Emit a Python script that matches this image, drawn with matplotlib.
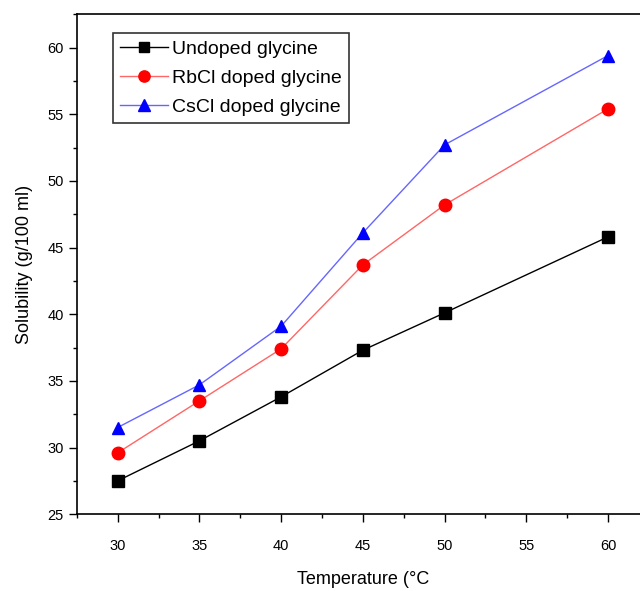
import matplotlib
matplotlib.use("Agg")
import matplotlib.pyplot as plt
from matplotlib.ticker import MultipleLocator

plt.rcParams['font.family'] = ['Liberation Sans', 'DejaVu Sans']

temperature = [30, 35, 40, 45, 50, 60]
undoped = [27.5, 30.5, 33.8, 37.3, 40.1, 45.8]
rbcl = [29.6, 33.5, 37.4, 43.7, 48.2, 55.4]
cscl = [31.5, 34.7, 39.1, 46.1, 52.7, 59.4]

fig = plt.figure(figsize=(6.4, 5.91), dpi=100)
ax = fig.add_axes([0.120, 0.130, 0.894, 0.846])

ax.plot(temperature, undoped, color='black', lw=1, marker='s', ms=8,
        mfc='black', mec='black', label='Undoped glycine')
ax.plot(temperature, rbcl, color='#ff6666', lw=1, marker='o', ms=9,
        mfc='red', mec='red', label='RbCl doped glycine')
ax.plot(temperature, cscl, color='#6666ff', lw=1, marker='^', ms=9,
        mfc='blue', mec='blue', label='CsCl doped glycine')

ax.set_xlim(27.5, 62.5)
ax.set_ylim(25, 62.5)
ax.xaxis.set_major_locator(MultipleLocator(5))
ax.xaxis.set_minor_locator(MultipleLocator(2.5))
ax.yaxis.set_major_locator(MultipleLocator(5))
ax.yaxis.set_minor_locator(MultipleLocator(2.5))
ax.tick_params(which='major', direction='out', length=6, width=1, labelsize=10.5)
ax.tick_params(which='minor', direction='out', length=3, width=1)
ax.tick_params(axis='x', pad=12)
for s in ax.spines.values():
    s.set_linewidth(1.2)

ax.set_xlabel('Temperature (°C', fontsize=13, labelpad=13)
ax.set_ylabel('Solubility (g/100 ml)', fontsize=13, labelpad=10)

leg = ax.legend(loc='upper left', bbox_to_anchor=(0.063, 0.962), fontsize=14,
                frameon=True, fancybox=False, edgecolor='black',
                handlelength=2.5, handletextpad=0.2, borderpad=0.35,
                labelspacing=0.6, borderaxespad=0, markerscale=0.9)
leg.get_frame().set_linewidth(1.2)

fig.savefig('out.png', dpi=100)
